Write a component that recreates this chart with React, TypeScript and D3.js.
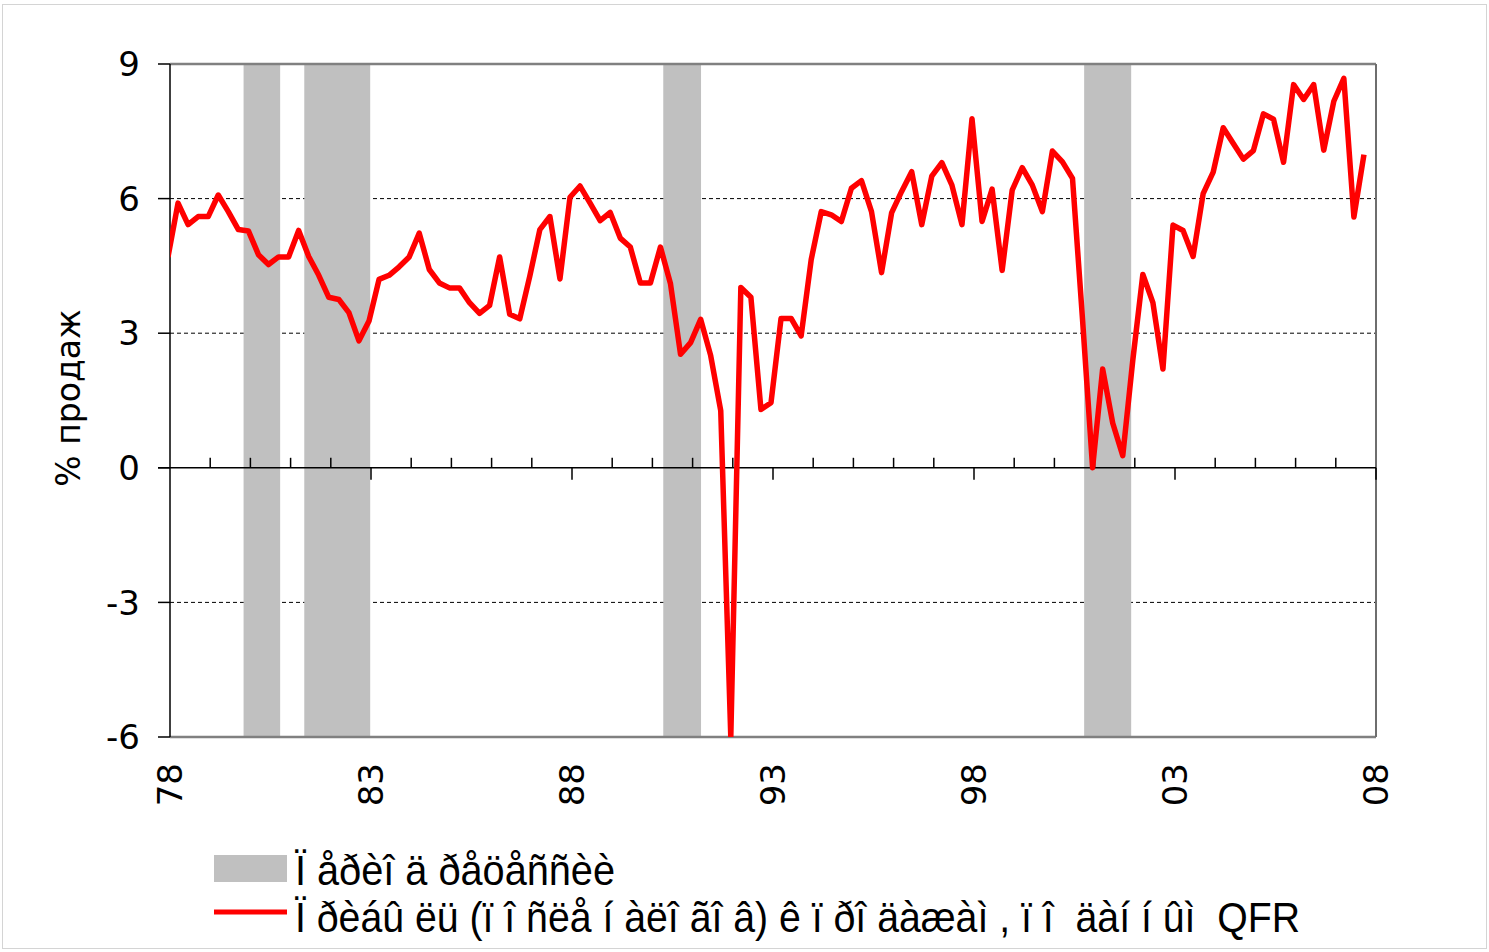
import React from "react";
import * as d3 from "d3";

const startYear = 1978;
// Quarterly profit (after tax) to sales, %, 1978Q1 .. 2007Q4
const profitValues: number[] = [
  4.70, 5.90, 5.42, 5.60,
  5.60, 6.08, 5.71, 5.31,
  5.28, 4.75, 4.53, 4.70,
  4.70, 5.29, 4.71, 4.29,
  3.80, 3.75, 3.46, 2.83,
  3.27, 4.20, 4.29, 4.48,
  4.70, 5.23, 4.42, 4.12,
  4.01, 4.01, 3.68, 3.44,
  3.62, 4.70, 3.42, 3.32,
  4.27, 5.31, 5.60, 4.21,
  6.03, 6.28, 5.90, 5.51,
  5.69, 5.12, 4.92, 4.12,
  4.12, 4.92, 4.10, 2.53,
  2.79, 3.31, 2.50, 1.27,
  -6.0, 4.02, 3.80, 1.30,
  1.45, 3.33, 3.33, 2.94,
  4.64, 5.71, 5.64, 5.49,
  6.23, 6.40, 5.71, 4.35,
  5.68, 6.16, 6.60, 5.42,
  6.50, 6.80, 6.30, 5.42,
  7.78, 5.49, 6.21, 4.40,
  6.19, 6.69, 6.30, 5.71,
  7.06, 6.82, 6.45, 3.30,
  0.00, 2.20, 1.00, 0.27,
  2.40, 4.31, 3.68, 2.20,
  5.41, 5.29, 4.71, 6.11,
  6.59, 7.58, 7.23, 6.88,
  7.07, 7.89, 7.77, 6.81,
  8.54, 8.21, 8.54, 7.08,
  8.17, 8.68, 5.59, 6.98,
];

// Recession periods (decimal years)
const recessionStarts: number[] = [1979.83, 1981.34, 1990.27, 2000.74];
const recessionEnds: number[] = [1980.74, 1982.98, 1991.21, 2001.91];

const yTicks: number[] = [-6, -3, 0, 3, 6, 9];
const gridValues: number[] = [-3, 3, 6];
const xLabelYears: number[] = [1978, 1983, 1988, 1993, 1998, 2003, 2008];
const xLabels: string[] = ["78", "83", "88", "93", "98", "03", "08"];

const yAxisTitle = "% продаж";
const legendRecession = "Ï åðèî ä ðåöåññèè";
const legendProfit = "Ï ðèáû ëü (ï î ñëå í àëî ãî â) ê ï ðî äàæàì , ï î  äàí í ûì  QFR";

const W = 1489;
const H = 952;
const left = 170;
const right = 1376;
const top = 64;
const bottom = 737;

export default function App() {
  const x = d3.scaleLinear().domain([1978, 2008]).range([left, right]);
  const y = d3.scaleLinear().domain([-6, 9]).range([bottom, top]);

  const pts = profitValues.map((v, i) => ({ t: startYear + i / 4, v }));
  const line = d3
    .line<{ t: number; v: number }>()
    .x((d) => x(d.t) - 2)
    .y((d) => y(d.v));

  const years = d3.range(1978, 2009);
  const numFont = "'DejaVu Sans', Verdana, sans-serif";
  const narrowFont = "'Liberation Sans Narrow', 'Liberation Sans', Arial, sans-serif";

  return (
    <svg
      width={W}
      height={H}
      style={{ position: "absolute", left: 0, top: 0, display: "block", background: "#fff" }}
    >
      <defs>
        <clipPath id="plotClip">
          <rect x={left} y={top - 2} width={right - left} height={bottom - top + 2} />
        </clipPath>
      </defs>
      <rect x={2.5} y={4.5} width={1484} height={944} fill="#fff" stroke="#d4d4d4" strokeWidth={1} />

      {/* gridlines */}
      {gridValues.map((g) => (
        <line
          key={"g" + g}
          x1={left}
          x2={right}
          y1={y(g)}
          y2={y(g)}
          stroke="#000"
          strokeWidth={1}
          strokeDasharray="4 3"
        />
      ))}

      {/* recession bands */}
      {recessionStarts.map((s, i) => (
        <rect
          key={"r" + i}
          x={x(s)}
          y={top}
          width={x(recessionEnds[i]) - x(s)}
          height={bottom - top}
          fill="#c0c0c0"
        />
      ))}

      {/* frame */}
      <line x1={left} x2={right} y1={top} y2={top} stroke="#808080" strokeWidth={2.5} />
      <line x1={left} x2={right} y1={bottom} y2={bottom} stroke="#808080" strokeWidth={2.5} />
      <line x1={right} x2={right} y1={top} y2={bottom} stroke="#6e6e6e" strokeWidth={2} />

      {/* zero axis with ticks */}
      <line x1={158} x2={right} y1={y(0)} y2={y(0)} stroke="#000" strokeWidth={1.5} />
      {years.map((yr) => {
        const major = (yr - 1978) % 5 === 0;
        if (yr === 1978) return null;
        return major ? (
          <line key={"t" + yr} x1={x(yr)} x2={x(yr)} y1={y(0)} y2={y(0) + 12} stroke="#000" strokeWidth={1.5} />
        ) : (
          <line key={"t" + yr} x1={x(yr)} x2={x(yr)} y1={y(0)} y2={y(0) - 10} stroke="#000" strokeWidth={1.5} />
        );
      })}

      {/* left axis */}
      <line x1={left} x2={left} y1={top} y2={bottom} stroke="#000" strokeWidth={1.5} />
      {yTicks.map((t) => (
        <g key={"y" + t}>
          <line x1={158} x2={left} y1={y(t)} y2={y(t)} stroke="#000" strokeWidth={1.5} />
          <text
            x={140}
            y={y(t)}
            dy="0.36em"
            textAnchor="end"
            fontFamily={numFont}
            fontSize={34}
            fill="#000"
          >
            {t}
          </text>
        </g>
      ))}

      {/* series line */}
      <path
        d={line(pts) || ""}
        fill="none"
        stroke="#ff0000"
        strokeWidth={5.5}
        strokeLinejoin="round"
        clipPath="url(#plotClip)"
      />

      {/* x labels */}
      {xLabelYears.map((yr, i) => (
        <text
          key={"xl" + yr}
          transform={`translate(${x(yr)},${763}) rotate(-90)`}
          dy="0.36em"
          textAnchor="end"
          fontFamily={numFont}
          fontSize={34}
          fill="#000"
        >
          {xLabels[i]}
        </text>
      ))}

      {/* y title */}
      <text
        transform={`translate(80,${398}) rotate(-90)`}
        textAnchor="middle"
        fontFamily={numFont}
        fontSize={33}
        fill="#000"
      >
        {yAxisTitle}
      </text>

      {/* legend */}
      <rect x={214} y={855} width={73} height={27} fill="#c0c0c0" />
      <text
        x={295}
        y={885}
        fontFamily={narrowFont}
        fontSize={42}
        textLength={320}
        lengthAdjust="spacingAndGlyphs"
        style={{ whiteSpace: "pre" }}
        fill="#000"
      >
        {legendRecession}
      </text>
      <line x1={214} x2={287} y1={912} y2={912} stroke="#ff0000" strokeWidth={5} />
      <text
        x={295}
        y={932}
        fontFamily={narrowFont}
        fontSize={42}
        textLength={1005}
        lengthAdjust="spacingAndGlyphs"
        style={{ whiteSpace: "pre" }}
        fill="#000"
      >
        {legendProfit}
      </text>
    </svg>
  );
}
